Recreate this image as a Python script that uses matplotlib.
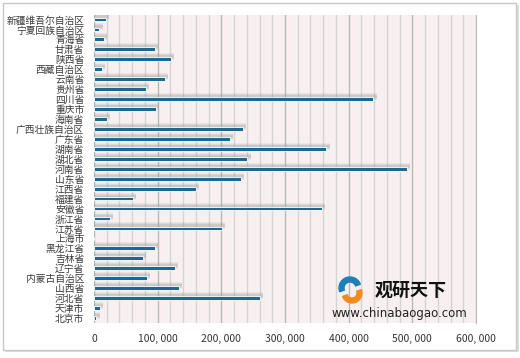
import matplotlib
matplotlib.use("Agg")
import matplotlib.pyplot as plt
from matplotlib.patches import Rectangle, Wedge
from matplotlib.ticker import MultipleLocator, FuncFormatter

plt.rcParams['font.family'] = ['Noto Sans CJK SC', 'DejaVu Sans']

# 各省数值（从上到下）
provinces = ['新疆维吾尔自治区', '宁夏回族自治区', '青海省', '甘肃省', '陕西省', '西藏自治区',
             '云南省', '贵州省', '四川省', '重庆市', '海南省', '广西壮族自治区', '广东省',
             '湖南省', '湖北省', '河南省', '山东省', '江西省', '福建省', '安徽省', '浙江省',
             '江苏省', '上海市', '黑龙江省', '吉林省', '辽宁省', '内蒙古自治区', '山西省',
             '河北省', '天津市', '北京市']
values = [18800, 8400, 15700, 95600, 120700, 13000, 111300, 81000, 439000, 97200,
          20900, 234000, 214000, 365000, 241000, 492000, 231000, 160000, 61700, 358000,
          24600, 201000, 0, 95600, 76800, 127500, 82500, 133000, 260000, 9900, 3700]
xticks = [0, 100000, 200000, 300000, 400000, 500000, 600000]

fig = plt.figure(figsize=(5.2, 3.58), dpi=100)
fig.patch.set_facecolor('white')

# 外框
fig.add_artist(Rectangle((5 / 520, 6 / 358), 514 / 520, 347 / 358, transform=fig.transFigure,
                         facecolor='#dcdcdc', edgecolor='none', zorder=-3))
fig.add_artist(Rectangle((3 / 520, 8 / 358), 513 / 520, 347 / 358, transform=fig.transFigure,
                         facecolor='white', edgecolor='#c8c8c8', lw=1, zorder=-2))

ax = fig.add_axes([94 / 520, 1 - 323 / 358, 382 / 520, 308 / 358])
ax.set_facecolor('#f8f0f0')

pos = list(range(len(provinces)))
# 阴影（模糊效果，叠几层）
for h, a in [(0.7, 0.12), (0.5, 0.18), (0.3, 0.22)]:
    ax.barh([p - 0.25 for p in pos], [v + 5000 if v > 0 else 0 for v in values], height=h,
            color='#9a9a9a', alpha=a, zorder=2, lw=0)
ax.barh(pos, values, height=0.38, color='#1b6890', edgecolor='white', linewidth=0.6, zorder=3)

ax.set_xlim(0, 600000)
ax.set_ylim(30.5, -0.45)
ax.set_yticks(pos)
ax.set_yticklabels(provinces, fontsize=7, color='#3a3a3a')
ax.set_xticks(xticks)
ax.xaxis.set_major_formatter(FuncFormatter(lambda v, p: '{:,}'.format(int(v)).replace(',', ', ')))
ax.xaxis.set_minor_locator(MultipleLocator(20000))
ax.tick_params(axis='x', labelsize=7.5, colors='#333333', length=0, pad=8, which='both')
ax.tick_params(axis='y', length=0, pad=7)
ax.grid(axis='x', which='major', color='#b8b8b8', lw=1, zorder=1)
ax.grid(axis='x', which='minor', color='#d4d4d4', lw=1, zorder=1)
ax.set_axisbelow(True)
for s in ax.spines.values():
    s.set_visible(False)
ax.spines['right'].set_visible(True)
ax.spines['right'].set_color('#bbbbbb')

# 水印
fig.add_artist(Wedge((350, 358 - 288), 11, 20, 200, width=5, color='#1f7fb8',
                     transform=None, zorder=5))
fig.add_artist(Wedge((352, 358 - 293), 10, 200, 380, width=5, color='#f08c1e',
                     transform=None, zorder=5))
fig.text(375 / 520, 1 - 290 / 358, '观研天下', fontsize=13, fontweight='bold',
         color='#111111', va='center', ha='left')
fig.text(399 / 520, 1 - 313 / 358, 'www.chinabaogao.com', fontsize=8.5, color='#222222',
         va='center', ha='center', family=['DejaVu Sans'])

fig.savefig('out.png', dpi=100)
